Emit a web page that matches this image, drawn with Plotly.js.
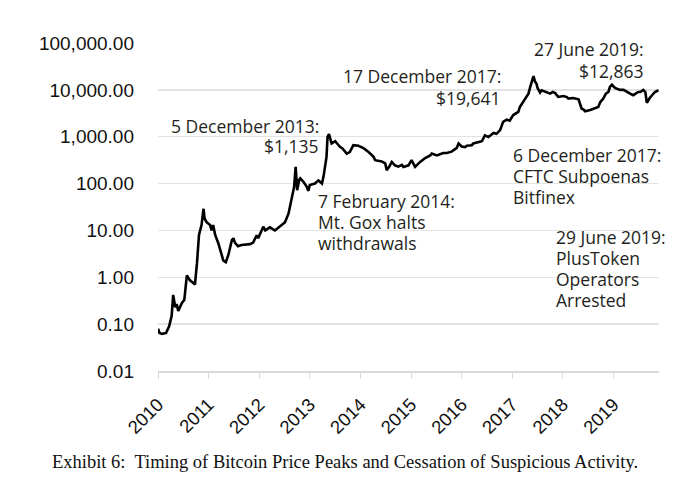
<!DOCTYPE html>
<html>
<head>
<meta charset="utf-8">
<script src="https://cdn.plot.ly/plotly-3.0.1.min.js"></script>
<style>
html,body{margin:0;padding:0;background:#fff;}
#chart{width:688px;height:482px;}
</style>
</head>
<body>
<div id="chart"></div>
<script>
// Decimal position on the chart's year axis (as drawn) and price in USD
const years = [
  2010.00, 2010.03, 2010.08, 2010.16, 2010.22, 2010.27, 2010.30, 2010.34, 2010.37, 2010.40,
  2010.47, 2010.52, 2010.57, 2010.63, 2010.68, 2010.73, 2010.77, 2010.81, 2010.86, 2010.90,
  2010.92, 2010.96, 2011.03, 2011.06, 2011.09, 2011.13, 2011.19, 2011.26, 2011.29, 2011.34,
  2011.39, 2011.46, 2011.49, 2011.52, 2011.58, 2011.65, 2011.75, 2011.82, 2011.88, 2011.95,
  2011.98, 2012.04, 2012.08, 2012.12, 2012.21, 2012.31, 2012.45, 2012.51, 2012.58, 2012.64,
  2012.69, 2012.72, 2012.75, 2012.79, 2012.81, 2012.87, 2012.94, 2012.97, 2013.00, 2013.10,
  2013.17, 2013.24, 2013.27, 2013.33, 2013.35, 2013.38, 2013.43, 2013.50, 2013.60, 2013.64,
  2013.73, 2013.79, 2013.86, 2013.96, 2014.06, 2014.16, 2014.26, 2014.29, 2014.42, 2014.49,
  2014.52, 2014.57, 2014.62, 2014.68, 2014.75, 2014.82, 2014.85, 2014.95, 2015.01, 2015.08,
  2015.18, 2015.28, 2015.38, 2015.41, 2015.51, 2015.61, 2015.64, 2015.71, 2015.77, 2015.80,
  2015.90, 2015.94, 2016.00, 2016.07, 2016.10, 2016.20, 2016.23, 2016.33, 2016.40, 2016.46,
  2016.53, 2016.63, 2016.69, 2016.76, 2016.79, 2016.82, 2016.89, 2016.95, 2017.02, 2017.12,
  2017.15, 2017.19, 2017.25, 2017.32, 2017.36, 2017.39, 2017.42, 2017.45, 2017.48, 2017.50,
  2017.55, 2017.58, 2017.62, 2017.68, 2017.75, 2017.80, 2017.85, 2017.88, 2017.91, 2018.01,
  2018.08, 2018.11, 2018.20, 2018.31, 2018.37, 2018.41, 2018.44, 2018.54, 2018.64, 2018.70,
  2018.74, 2018.80, 2018.85, 2018.90, 2018.93, 2018.97, 2019.03, 2019.13, 2019.20, 2019.26,
  2019.33, 2019.39, 2019.49, 2019.53, 2019.59, 2019.63, 2019.66, 2019.72, 2019.82, 2019.89
];
const prices = [
  0.08, 0.065, 0.062, 0.065, 0.09, 0.15, 0.42, 0.23, 0.27, 0.19,
  0.28, 0.33, 1.1, 0.86, 0.78, 0.70, 2.0, 8.0, 13, 29,
  18, 15, 13, 10, 13, 8, 5.4, 3.2, 2.3, 2.1,
  3.0, 6.2, 6.8, 5.5, 4.6, 4.9, 5.0, 5.1, 5.5, 7.9,
  6.8, 9.5, 12, 10, 11.6, 10.0, 13, 15, 23, 44,
  85, 227, 72, 120, 129, 110, 85, 70, 93, 100,
  117, 100, 139, 372, 990, 1135, 716, 800, 603, 570,
  437, 470, 660, 640, 570, 470, 372, 316, 297, 270,
  193, 230, 290, 245, 230, 250, 227, 245, 316, 227,
  290, 350, 400, 437, 400, 437, 450, 450, 470, 480,
  570, 716, 620, 600, 640, 660, 716, 780, 800, 1070,
  990, 1200, 1150, 1380, 1760, 2070, 2300, 2200, 2900, 3400,
  4320, 5100, 6400, 8300, 12000, 16000, 19641, 15000, 13500, 11000,
  8800, 9800, 9400, 9000, 8300, 9000, 8500, 7700, 7070, 7400,
  7000, 6500, 6700, 6300, 4000, 3800, 3500, 3700, 4000, 4300,
  5500, 6500, 8300, 9000, 11500, 12863, 11000, 10000, 10000, 9000,
  8300, 7700, 9000, 9000, 10000, 9000, 5300, 6800, 9000, 9800
];
const yTickVals = [0.01, 0.1, 1, 10, 100, 1000, 10000, 100000];
const yTickText = ["0.01", "0.10", "1.00", "10.00", "100.00", "1,000.00", "10,000.00", "100,000.00"];
const xTickVals = [2010, 2011, 2012, 2013, 2014, 2015, 2016, 2017, 2018, 2019];
const xTickText = ["2010", "2011", "2012", "2013", "2014", "2015", "2016", "2017", "2018", "2019"];

const noteLines = [
  "5 December 2013:", "$1,135",
  "17 December 2017:", "$19,641",
  "27 June 2019:", "$12,863",
  "6 December 2017:", "CFTC Subpoenas", "Bitfinex",
  "7 February 2014:", "Mt. Gox halts", "withdrawals",
  "29 June 2019:", "PlusToken", "Operators", "Arrested"
];
const caption = "Exhibit 6:  Timing of Bitcoin Price Peaks and Cessation of Suspicious Activity.";

// layout placement of each note line (paper coords, anchor)
const notePos = [
  [0.3253, 0.7463, 'right'], [0.3253, 0.6853, 'right'],
  [0.6886, 0.8986, 'right'], [0.6886, 0.8316, 'right'],
  [0.974, 0.9808, 'right'], [0.974, 0.9138, 'right'],
  [0.7046, 0.6579, 'left'], [0.7046, 0.594, 'left'], [0.7046, 0.53, 'left'],
  [0.3154, 0.5178, 'left'], [0.3154, 0.4539, 'left'], [0.3154, 0.3899, 'left'],
  [0.7904, 0.4082, 'left'], [0.7904, 0.3442, 'left'], [0.7904, 0.2802, 'left'], [0.7904, 0.2163, 'left']
];

const annotations = noteLines.map((t, i) => ({
  text: t, xref: 'paper', yref: 'paper',
  x: notePos[i][0], y: notePos[i][1], xanchor: notePos[i][2], yanchor: 'middle',
  showarrow: false,
  font: {family: 'Open Sans, sans-serif', size: 17.5, color: '#231f20'}
}));
annotations.push({
  text: caption, xref: 'paper', yref: 'paper',
  x: (50 - 158) / 501, y: (371 - 462) / 328.3, xanchor: 'left', yanchor: 'middle',
  showarrow: false,
  font: {family: 'Liberation Serif, Times New Roman, serif', size: 18.5, color: '#111'}
});

const trace = {
  x: years, y: prices, type: 'scatter', mode: 'lines',
  line: {color: '#000', width: 2.6},
  hoverinfo: 'skip'
};

const layout = {
  width: 688, height: 482,
  margin: {l: 158, r: 29, t: 42.7, b: 111},
  paper_bgcolor: '#fff', plot_bgcolor: '#fff',
  showlegend: false,
  xaxis: {
    range: [2010, 2019.9], tickmode: 'array', tickvals: xTickVals, ticktext: xTickText,
    tickangle: -45, ticks: 'outside', ticklen: 6, tickcolor: '#d9d9d9', tickwidth: 1,
    showline: true, linecolor: '#d9d9d9', linewidth: 1.5,
    showgrid: false, zeroline: false, ticklabelstandoff: 8,
    tickfont: {family: 'Liberation Sans, Arial, sans-serif', size: 18.5, color: '#111'}
  },
  yaxis: {
    type: 'log', range: [-2, 5], tickmode: 'array', tickvals: yTickVals, ticktext: yTickText,
    showgrid: true, gridcolor: '#e3e3e3', gridwidth: 1.5,
    showline: false, zeroline: false, ticks: '', ticklabelstandoff: 23,
    tickfont: {family: 'Liberation Sans, Arial, sans-serif', size: 19, color: '#111'}
  },
  annotations: annotations
};

Plotly.newPlot('chart', [trace], layout, {displayModeBar: false, staticPlot: true});
</script>
</body>
</html>
